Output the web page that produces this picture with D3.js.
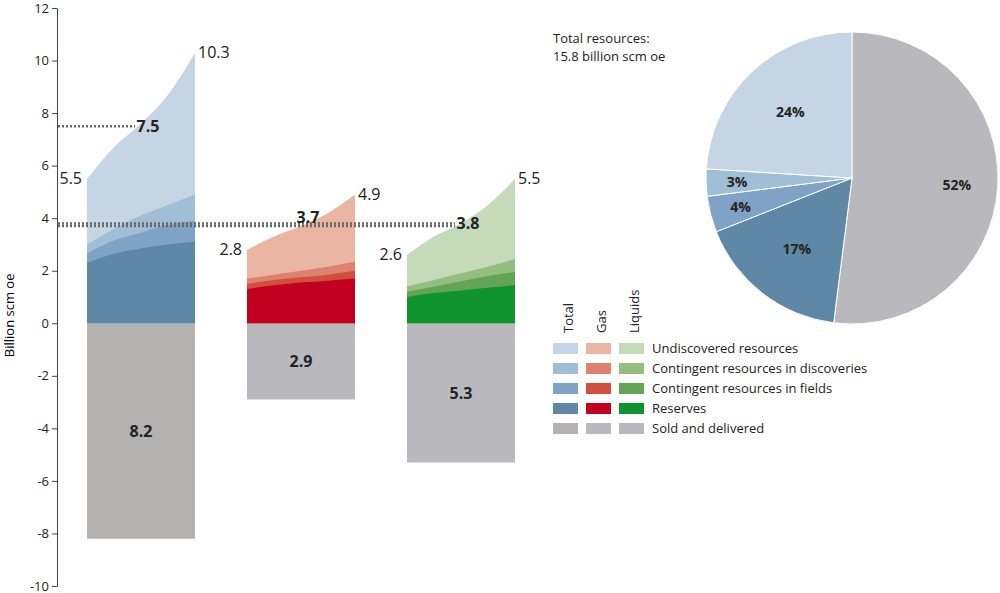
<!DOCTYPE html><html><head><meta charset="utf-8"><script src="https://cdn.jsdelivr.net/npm/d3@7"></script>
<style>body{margin:0;background:#fff}text{font-family:"Open Sans",sans-serif}</style></head><body><svg id="c" width="1000" height="593"></svg>
<script>
const fracs=[0,0.25,0.5,0.75,1];
const totalLayers=[[2.3,2.65,2.85,3.0,3.1],[2.65,3.15,3.45,3.75,3.9],[3.0,3.6,4.1,4.5,4.9],[5.5,6.7,7.6,8.7,10.3]];
const gasLayers=[[1.3,1.45,1.55,1.62,1.7],[1.5,1.65,1.75,1.85,2.0],[1.7,1.85,2.0,2.15,2.35],[2.8,3.3,3.7,4.2,4.9]];
const liqLayers=[[1.0,1.15,1.25,1.35,1.45],[1.2,1.4,1.6,1.8,1.95],[1.4,1.65,1.9,2.15,2.45],[2.6,3.3,3.8,4.5,5.5]];
const sold=[8.2,2.9,5.3];
const groups=["Total","Gas","Liquids"];
const colors=[["#5f87a6","#7fa3c6","#a0bfd6","#c5d5e3","#b3b2b1"],["#c20020","#d14f3f","#de8170","#ebb5a3","#b9b9bd"],["#0f932f","#64a458","#94bd80","#c5dab8","#b9b9bd"]];
const legendLabels=["Undiscovered resources","Contingent resources in discoveries","Contingent resources in fields","Reserves","Sold and delivered"];
const yTicks=[12,10,8,6,4,2,0,-2,-4,-6,-8,-10];
const pieVals=[52,17,4,3,24];
const pieColors=["#b9b9bd","#5f87a6","#7fa3c6","#a0bfd6","#c5d5e3"];
const refLines=[{v:7.5,x2:135},{v:3.7,x2:455},{v:3.8,x2:455}];
const midLabels=[{v:7.5,t:"7.5",g:0},{v:3.7,t:"3.7",g:1},{v:3.8,t:"3.8",g:2}];

const svg=d3.select("#c");
const y=d3.scaleLinear().domain([-10,12]).range([586,8]);
const bx=d3.scaleBand().domain(groups).range([87,515]).paddingInner(0.325);
const ax=svg.append("g").attr("transform","translate(57,0)").call(d3.axisLeft(y).tickValues(yTicks).tickFormat(d=>String(d)).tickSize(5).tickSizeOuter(0));
ax.selectAll("text").attr("font-size",13).attr("fill","#222");
ax.selectAll("path,line").attr("stroke","#444");
svg.append("text").attr("transform","translate(14,"+y(0.3)+") rotate(-90)").attr("text-anchor","middle").attr("font-size",13).text("Billion scm oe");

[totalLayers,gasLayers,liqLayers].forEach((L,gi)=>{
  const x0=bx(groups[gi]),w=bx.bandwidth();
  const xs=d3.scaleLinear().domain([0,1]).range([x0,x0+w]);
  svg.append("rect").attr("x",x0).attr("width",w).attr("y",y(0)).attr("height",y(-sold[gi])-y(0)).attr("fill",colors[gi][4]);
  svg.append("text").attr("x",x0+w/2).attr("y",y(-sold[gi]/2)+6).attr("text-anchor","middle").attr("font-size",16).attr("font-weight","bold").attr("fill","#222").text(sold[gi].toFixed(1));
  for(let li=3;li>=0;li--){
    const area=d3.area().x((d,i)=>xs(fracs[i])).y0(y(0)).y1(d=>y(d)).curve(d3.curveMonotoneX);
    svg.append("path").attr("d",area(L[li])).attr("fill",colors[gi][li]);
  }
  const top=L[3];
  svg.append("text").attr("x",x0-5).attr("y",y(top[0])+5).attr("text-anchor","end").attr("font-size",16).attr("fill","#222").text(top[0].toFixed(1));
  svg.append("text").attr("x",x0+w+3).attr("y",y(top[4])+5).attr("font-size",16).attr("fill","#222").text(top[4].toFixed(1));
});
refLines.forEach(r=>svg.append("line").attr("x1",58).attr("x2",r.x2).attr("y1",y(r.v)).attr("y2",y(r.v)).attr("stroke","#666").attr("stroke-width",2.5).attr("stroke-dasharray","2,2"));
midLabels.forEach(m=>svg.append("text").attr("x",bx(groups[m.g])+bx.bandwidth()/2+7).attr("y",y(m.v)+(m.g==1?-3:6)).attr("text-anchor","middle").attr("font-size",16).attr("font-weight","bold").attr("fill","#222").text(m.t));

const lx=[553,586,619];
groups.forEach((g,i)=>svg.append("text").attr("transform",`translate(${lx[i]+20},333) rotate(-90)`).attr("font-size",13).attr("fill","#222").text(g));
const rowOrder=[3,2,1,0,4];
rowOrder.forEach((ci,r)=>{
  const yy=348+r*20;
  for(let g=0;g<3;g++) svg.append("rect").attr("x",lx[g]).attr("y",yy-5).attr("width",25).attr("height",11).attr("fill",colors[g][ci]);
  svg.append("text").attr("x",652).attr("y",yy+5).attr("font-size",13).attr("fill","#222").text(legendLabels[r]);
});

svg.append("text").attr("x",553).attr("y",43).attr("font-size",13).attr("fill","#222").text("Total resources:");
svg.append("text").attr("x",553).attr("y",61).attr("font-size",13).attr("fill","#222").text("15.8 billion scm oe");
const pg=svg.append("g").attr("transform","translate(852,178)");
const arcs=d3.pie().sort(null)(pieVals);
const arc=d3.arc().innerRadius(0).outerRadius(146);
pg.selectAll("path").data(arcs).join("path").attr("d",arc).attr("fill",(d,i)=>pieColors[i]).attr("stroke","#fff").attr("stroke-width",1);
const lr=[105,90,115,115,90];
arcs.forEach((d,i)=>{const a=(d.startAngle+d.endAngle)/2;const r=lr[i];
  pg.append("text").attr("x",Math.sin(a)*r).attr("y",-Math.cos(a)*r+5).attr("text-anchor","middle").attr("font-size",14).attr("font-weight","bold").attr("fill","#222").text(pieVals[i]+"%");});
</script></body></html>
